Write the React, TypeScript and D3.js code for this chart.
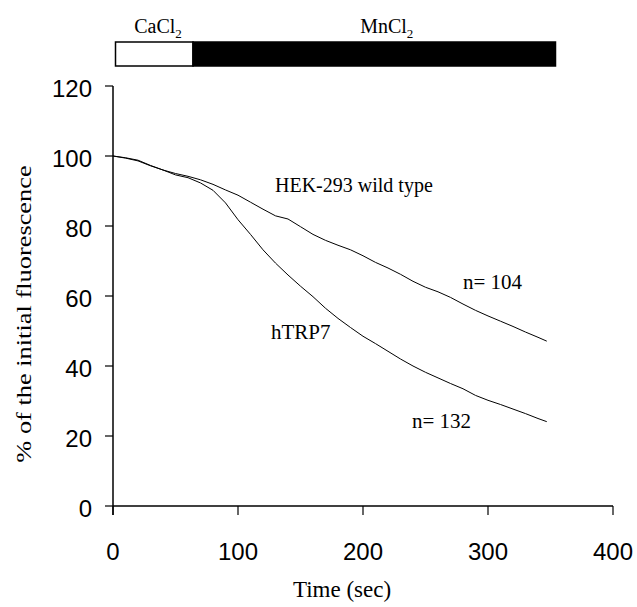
import React from "react";
import * as d3 from "d3";

// time points (sec)
const times = [0, 10, 20, 30, 40, 50, 60, 70, 80, 90, 100, 110, 120, 130, 140, 150, 160, 170, 180, 190, 200, 210, 220, 230, 240, 250, 260, 270, 280, 290, 300, 310, 320, 330, 340, 347];

const wildType = [100, 99.5, 98.8, 97.3, 96.0, 95.0, 94.2, 93.2, 91.9, 90.3, 88.8, 86.8, 84.8, 82.9, 82.0, 79.8, 77.6, 75.9, 74.5, 73.2, 71.5, 69.6, 68.0, 66.2, 64.2, 62.5, 61.2, 59.6, 57.7, 55.9, 54.3, 52.8, 51.3, 49.7, 48.2, 47.1];

const hTRP7 = [100, 99.4, 98.6, 97.2, 96.0, 94.6, 93.8, 92.3, 90.2, 86.6, 81.8, 77.6, 73.2, 69.4, 66.0, 62.8, 59.8, 56.5, 53.6, 51.0, 48.5, 46.4, 44.2, 42.0, 40.0, 38.2, 36.6, 35.0, 33.5, 31.6, 30.2, 29.0, 27.7, 26.4, 25.0, 24.1];

const xTicks = [0, 100, 200, 300, 400];
const yTicks = [0, 20, 40, 60, 80, 100, 120];

// application periods (sec)
const phases = [
  { name: "CaCl", start: 2, end: 64, labelAt: 36, fill: "#fff" },
  { name: "MnCl", start: 64, end: 354, labelAt: 219, fill: "#000" },
];

const W = 637;
const H = 607;
const margin = { left: 113, right: 23, top: 86, bottom: 101 };

export default function App() {
  const x = d3.scaleLinear().domain([0, 400]).range([margin.left, W - margin.right - 1]);
  const y = d3.scaleLinear().domain([0, 120]).range([H - margin.bottom, margin.top]);

  const line = d3
    .line<number>()
    .x((_, i) => x(times[i]))
    .y((d) => y(d));

  const serif = "'Liberation Serif', 'Times New Roman', serif";
  const sans = "'Liberation Sans', Arial, sans-serif";

  return (
    <svg width={W} height={H} style={{ position: "absolute", left: 0, top: 0, background: "#fff" }}>
      {/* solution bar on top */}
      {phases.map((p) => (
        <g key={p.name}>
          <rect
            x={x(p.start)}
            y={42}
            width={x(p.end) - x(p.start)}
            height={24}
            fill={p.fill}
            stroke="#000"
            strokeWidth={1.5}
          />
          <text x={x(p.labelAt)} y={33} textAnchor="middle" fontFamily={serif} fontSize={20}>
            {p.name}
            <tspan fontSize={13} dy={5}>2</tspan>
          </text>
        </g>
      ))}

      {/* axes */}
      <line x1={x(0)} x2={x(0)} y1={y(120)} y2={y(0) + 9} stroke="#000" strokeWidth={1.5} />
      <line x1={x(0)} x2={x(400)} y1={y(0)} y2={y(0)} stroke="#000" strokeWidth={1.5} />
      {yTicks.map((t) => (
        <g key={"y" + t}>
          <line x1={x(0) - 8} x2={x(0)} y1={y(t)} y2={y(t)} stroke="#000" strokeWidth={1.2} />
          <text x={x(0) - 21} y={y(t) + 11} textAnchor="end" fontFamily={sans} fontSize={24}>
            {t}
          </text>
        </g>
      ))}
      {xTicks.map((t) => (
        <g key={"x" + t}>
          <line x1={x(t)} x2={x(t)} y1={y(0)} y2={y(0) + 9} stroke="#000" strokeWidth={1.2} />
          <text x={x(t)} y={y(0) + 54} textAnchor="middle" fontFamily={sans} fontSize={24}>
            {t}
          </text>
        </g>
      ))}

      <text
        transform="translate(31,314) rotate(-90) scale(1.2,1)"
        textAnchor="middle"
        fontFamily={serif}
        fontSize={22}
      >
        % of the initial fluorescence
      </text>
      <text x={342} y={597} textAnchor="middle" fontFamily={serif} fontSize={23}>
        Time (sec)
      </text>

      {/* traces */}
      <path d={line(wildType) ?? ""} fill="none" stroke="#000" strokeWidth={1} />
      <path d={line(hTRP7) ?? ""} fill="none" stroke="#000" strokeWidth={1} />

      <text x={275} y={192} fontFamily={serif} fontSize={20}>HEK-293 wild type</text>
      <text x={463} y={289} fontFamily={serif} fontSize={21}>n= 104</text>
      <text x={271} y={339} fontFamily={serif} fontSize={21}>hTRP7</text>
      <text x={412} y={428} fontFamily={serif} fontSize={21}>n= 132</text>
    </svg>
  );
}
